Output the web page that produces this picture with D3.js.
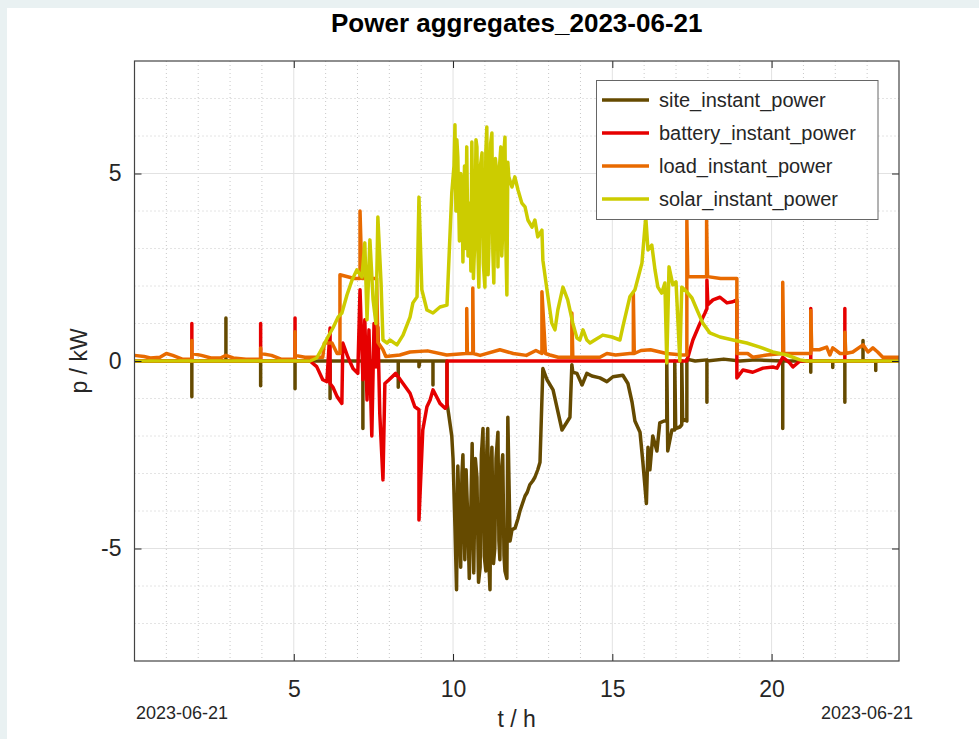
<!DOCTYPE html>
<html>
<head>
<meta charset="utf-8">
<script src="https://cdn.jsdelivr.net/npm/d3@7"></script>
<style>
body { margin: 0; background: #e9f1f2; }
svg { display: block; font-family: "Liberation Sans", Arial, sans-serif; }
</style>
</head>
<body>
<svg id="chart" width="979" height="739"></svg>
<script>
// labels
const chartTitle = "Power aggregates_2023-06-21";
const dateLabel = "2023-06-21";
const seriesNames = ["site_instant_power", "battery_instant_power", "load_instant_power", "solar_instant_power"];
const xTicks = [5, 10, 15, 20];
const yTicks = [-5, 0, 5];

// [hour, kW]
const sitePower = [
  [0,0],[1.80,0],[1.80,-0.95],[1.80,0],[2.87,0],[2.87,1.15],[2.87,0],[3.96,0],[3.96,-0.66],[3.96,0],
  [5.04,0],[5.04,-0.74],[5.04,0],[6.14,0],[6.14,-1.0],[6.14,0],[7.17,0],[7.17,-1.8],[7.17,0],
  [7.45,0],[7.45,-1.05],[7.45,0],[8.28,0],[8.28,-0.7],[8.28,0],[8.93,0],[8.93,-0.15],[8.96,0],
  [9.37,0],[9.37,-0.64],[9.37,0],[9.81,0],[9.81,-1.12],[9.86,-1.4],[9.96,-2.0],[10.0,-2.6],
  [10.06,-4.4],[10.11,-6.1],[10.15,-2.8],[10.21,-4.5],[10.24,-5.5],[10.28,-3.0],[10.31,-2.5],
  [10.37,-5.3],[10.41,-2.9],[10.47,-4.4],[10.51,-5.8],[10.56,-3.9],[10.60,-2.2],[10.65,-5.65],
  [10.70,-2.6],[10.75,-3.1],[10.80,-5.9],[10.85,-5.5],[10.89,-2.5],[10.94,-1.8],[10.98,-5.2],
  [11.03,-5.6],[11.06,-2.4],[11.09,-1.8],[11.13,-5.5],[11.16,-6.1],[11.19,-3.0],[11.22,-2.3],
  [11.27,-5.4],[11.31,-5.0],[11.35,-2.6],[11.41,-1.9],[11.44,-4.8],[11.47,-5.3],[11.51,-3.0],
  [11.56,-2.5],[11.60,-5.2],[11.63,-5.6],[11.69,-5.8],[11.72,-1.5],[11.79,-4.8],[11.85,-4.5],
  [11.95,-4.45],[12.04,-4.2],[12.10,-4.0],[12.18,-3.8],[12.26,-3.6],[12.33,-3.5],[12.41,-3.3],
  [12.50,-3.2],[12.57,-3.1],[12.66,-2.9],[12.73,-2.7],[12.82,-0.2],[12.95,-0.5],
  [13.14,-0.77],[13.42,-1.84],[13.67,-1.5],[13.73,-0.1],[13.76,-0.3],[13.89,-0.33],[14.05,-0.64],
  [14.20,-0.33],[14.36,-0.4],[14.61,-0.45],[14.83,-0.55],[15.02,-0.42],[15.33,-0.38],[15.49,-0.6],
  [15.62,-1.1],[15.71,-1.6],[15.87,-1.9],[15.96,-2.7],[16.02,-3.3],[16.07,-3.8],[16.12,-2.3],
  [16.18,-2.9],[16.27,-2.0],[16.40,-2.4],[16.49,-1.65],[16.62,-1.6],[16.71,-1.6],[16.71,0],
  [16.74,-2.4],[16.87,-1.84],[16.96,-1.84],[16.96,0],[16.99,-1.8],[17.12,-1.76],[17.18,-1.7],
  [17.18,0],[17.21,-1.6],[17.28,-1.57],[17.34,-1.6],[17.34,0.05],[17.6,0],[17.97,0.03],
  [17.97,-1.1],[17.97,0],[18.5,0.05],[19.0,0],[19.5,0.03],[20.35,0],[20.35,-1.8],[20.35,0],
  [21.23,0],[21.23,-0.3],[21.23,0],[21.92,0],[21.92,-0.17],[21.92,0],[22.30,0],[22.30,-1.1],
  [22.30,0],[22.87,0],[22.87,0.55],[22.87,0],[23.27,0],[23.27,-0.25],[23.27,0],[24,0]
];
const batteryPower = [
  [0,0],[1.80,0],[1.80,1.0],[1.80,0],[3.96,0],[3.96,1.0],[3.96,0],[5.04,0],[5.04,1.15],[5.04,0],
  [5.51,0],[5.72,-0.15],[5.91,-0.5],[6.04,-0.55],[6.14,0.88],[6.14,-0.6],[6.23,-0.7],[6.36,-0.95],
  [6.51,-1.13],[6.54,0.48],[6.70,0.1],[6.86,-0.2],[7.01,-0.33],[7.08,1.9],[7.17,-0.5],[7.23,1.1],
  [7.30,-1.04],[7.36,0.83],[7.45,-2.0],[7.52,1.0],[7.58,-0.16],[7.64,0.9],[7.70,-1.4],[7.80,-3.17],
  [7.86,-0.6],[7.99,-0.5],[8.20,-0.33],[8.43,-0.6],[8.65,-0.86],[8.80,-1.22],[8.93,-1.3],
  [8.93,-4.24],[9.05,-1.84],[9.18,-1.22],[9.28,-1.04],[9.37,-0.77],[9.50,-0.98],[9.59,-1.13],
  [9.75,-1.26],[9.81,-1.2],[9.81,0],[17.34,0],[17.44,0.3],[17.53,0.56],[17.75,1.0],[17.91,1.28],
  [17.97,1.4],[17.97,2.16],[18.0,1.5],[18.16,1.63],[18.38,1.7],[18.60,1.55],[18.78,1.58],
  [18.91,1.63],[18.91,-0.45],[19.10,-0.24],[19.41,-0.3],[19.73,-0.19],[20.04,-0.16],[20.17,-0.19],
  [20.35,0.1],[20.57,-0.05],[20.67,-0.16],[20.89,0],[21.23,0],[21.23,1.4],[21.23,0],
  [22.30,0],[22.30,1.4],[22.30,0],[24,0]
];
const loadPower = [
  [0,0.15],[0.3,0.12],[0.5,0.08],[0.8,0.1],[1.0,0.2],[1.2,0.15],[1.5,0.05],[1.80,0.05],[1.80,0.55],
  [1.80,0.2],[2.1,0.15],[2.4,0.08],[2.7,0.08],[2.87,0.15],[3.1,0.08],[3.5,0.05],[3.96,0.05],
  [3.96,0.35],[3.96,0.2],[4.3,0.15],[4.6,0.05],[5.04,0.05],[5.04,0.78],[5.04,0.15],[5.35,0.1],
  [5.6,0.1],[5.91,0.1],[5.96,0.48],[6.2,0.48],[6.36,0.2],[6.45,0.2],[6.45,2.3],[6.9,2.2],
  [7.08,2.2],[7.08,4.0],[7.14,2.2],[7.6,2.2],[7.64,0.5],[7.8,0.3],[7.89,0.12],[8.33,0.16],
  [8.65,0.24],[9.2,0.27],[9.8,0.16],[10.4,0.2],[10.43,0.2],[10.43,1.4],[10.45,0.2],[10.62,0.2],
  [10.62,1.95],[10.64,0.2],[10.85,0.15],[11.47,0.3],[11.89,0.2],[12.3,0.15],[12.6,0.28],
  [12.79,0.2],[12.79,1.85],[12.9,0.2],[13.04,0.16],[13.3,0.1],[13.73,0.1],[13.73,1.28],
  [13.76,0.1],[14.2,0.1],[14.61,0.1],[14.83,0.2],[15.1,0.16],[15.55,0.2],[15.66,0.2],[15.66,1.8],
  [15.69,0.2],[15.9,0.28],[16.2,0.3],[16.7,0.2],[17.2,0.16],[17.34,0.16],[17.34,3.75],[17.37,2.25],
  [17.96,2.25],[17.96,3.75],[17.99,2.25],[18.4,2.2],[18.91,2.2],[18.91,0.2],[19.25,0.2],[19.41,0.1],
  [19.85,0.16],[20.35,0.2],[20.35,2.1],[20.38,0.2],[20.9,0.2],[21.23,0.2],[21.23,1.35],[21.26,0.3],
  [21.5,0.3],[21.73,0.37],[21.83,0.16],[21.92,0.35],[22.15,0.2],[22.30,0.2],[22.30,0.77],
  [22.33,0.2],[22.55,0.24],[22.87,0.43],[23.03,0.24],[23.18,0.35],[23.33,0.24],[23.49,0.1],[24,0.1]
];
const solarPower = [
  [0,0],[5.35,0],[5.51,0],[5.72,0.08],[5.91,0.37],[6.07,0.64],[6.23,0.88],[6.39,1.17],[6.51,1.28],
  [6.67,1.76],[6.83,2.16],[6.98,2.43],[7.14,2.24],[7.23,3.15],[7.30,1.1],[7.39,3.23],[7.49,1.63],
  [7.58,1.0],[7.64,3.84],[7.74,2.08],[7.80,0.56],[7.93,0.48],[8.02,0.56],[8.24,0.43],[8.43,0.69],
  [8.65,1.17],[8.74,1.55],[8.87,1.71],[8.93,4.37],[9.02,1.9],[9.18,1.36],[9.37,1.28],[9.59,1.44],
  [9.81,1.49],[9.96,4.48],[10.03,5.2],[10.06,6.3],[10.09,4.0],[10.12,5.9],[10.15,5.44],[10.2,3.2],
  [10.24,5.0],[10.28,4.64],[10.31,2.64],[10.36,5.2],[10.40,3.0],[10.43,5.71],[10.47,2.8],
  [10.53,4.21],[10.56,2.4],[10.59,5.84],[10.64,2.2],[10.69,3.41],[10.72,5.9],[10.75,5.71],
  [10.78,3.0],[10.81,1.97],[10.86,5.2],[10.91,5.55],[10.95,2.6],[11.0,1.97],[11.03,5.6],
  [11.06,6.24],[11.10,2.3],[11.13,3.15],[11.18,5.8],[11.22,6.08],[11.25,2.9],[11.28,2.08],
  [11.33,5.4],[11.38,4.91],[11.41,2.51],[11.46,5.2],[11.50,5.71],[11.53,2.8],[11.56,3.49],
  [11.60,5.6],[11.63,5.97],[11.66,3.0],[11.69,1.76],[11.72,5.3],[11.75,4.91],[11.85,4.64],
  [11.94,4.91],[12.04,4.56],[12.16,4.21],[12.26,4.11],[12.35,3.76],[12.48,3.57],[12.57,3.76],
  [12.66,3.31],[12.79,3.49],[12.82,2.69],[12.95,1.89],[13.1,1.01],[13.2,0.83],[13.29,1.36],
  [13.45,1.97],[13.6,1.63],[13.76,1.01],[13.89,0.61],[13.98,0.56],[14.08,0.83],[14.2,0.56],
  [14.30,0.48],[14.45,0.56],[14.7,0.69],[14.99,0.64],[15.24,0.56],[15.33,0.91],[15.55,1.71],
  [15.71,1.9],[15.93,2.61],[16.05,3.84],[16.12,2.96],[16.24,3.09],[16.34,2.43],[16.43,1.97],
  [16.55,1.81],[16.65,2.08],[16.71,-0.05],[16.78,2.51],[16.90,2.03],[17.0,2.11],[17.12,0],
  [17.18,1.97],[17.34,1.84],[17.5,1.68],[17.66,1.36],[17.84,1.01],[18.06,0.75],[18.38,0.64],
  [18.79,0.56],[19.22,0.48],[19.63,0.37],[20.04,0.24],[20.48,0.16],[20.89,0.03],[21.1,0],[24,0]
];

const seriesData = [sitePower, batteryPower, loadPower, solarPower];
const seriesColors = ["#654a00", "#e60000", "#e86a00", "#cccc00"];

const margin = {left: 134.5, right: 80, top: 61, bottom: 78};
const width = 979, height = 739;

const svg = d3.select("#chart");

// white panel
svg.append("rect")
  .attr("x", 7).attr("y", 8)
  .attr("width", width - 7).attr("height", height - 8)
  .attr("fill", "#fff");

const x = d3.scaleLinear().domain([0, 24]).range([margin.left, width - margin.right]);
const y = d3.scaleLinear().domain([-8, 8]).range([height - margin.bottom, margin.top]);

const x0 = x.range()[0], x1 = x.range()[1];
const y0 = y.range()[1], y1 = y.range()[0];

// minor grid (dotted)
const grid = svg.append("g");
grid.selectAll(".mx")
  .data(d3.range(1, 24).filter(d => d % 5 != 0))
  .enter().append("line")
  .attr("x1", d => x(d)).attr("x2", d => x(d))
  .attr("y1", y0).attr("y2", y1)
  .style("stroke", "#c8c8c8").style("stroke-dasharray", "1,3");
grid.selectAll(".my")
  .data(d3.range(-7, 8).filter(d => d % 5 != 0))
  .enter().append("line")
  .attr("y1", d => y(d)).attr("y2", d => y(d))
  .attr("x1", x0).attr("x2", x1)
  .style("stroke", "#c8c8c8").style("stroke-dasharray", "1,3");
// major grid
grid.selectAll(".gx")
  .data(xTicks)
  .enter().append("line")
  .attr("x1", d => x(d)).attr("x2", d => x(d))
  .attr("y1", y0).attr("y2", y1)
  .style("stroke", "#e2e2e2");
grid.selectAll(".gy")
  .data(yTicks)
  .enter().append("line")
  .attr("y1", d => y(d)).attr("y2", d => y(d))
  .attr("x1", x0).attr("x2", x1)
  .style("stroke", "#e2e2e2");

// series
svg.append("clipPath").attr("id", "clip")
  .append("rect").attr("x", x0).attr("y", y0).attr("width", x1 - x0).attr("height", y1 - y0);

const line = d3.line()
  .x(d => x(d[0]))
  .y(d => y(d[1]));

svg.append("g").attr("clip-path", "url(#clip)")
  .selectAll("path")
  .data(seriesData)
  .enter().append("path")
  .attr("d", line)
  .style("fill", "none")
  .style("stroke", (d, i) => seriesColors[i])
  .style("stroke-width", "3.5px")
  .style("stroke-linejoin", "round");

// axes, ticks inward
function styleAxis(g) {
  g.select(".domain").remove();
  g.selectAll("line").style("stroke", "#222").style("stroke-width", "1px");
  g.selectAll("text").style("font-size", "23px").style("fill", "#262626")
    .style("font-family", "'Liberation Sans', Arial, sans-serif");
}
const plain = d => String(d); // keeps the ascii hyphen of the reference
svg.append("g").attr("transform", `translate(0,${y1})`)
  .call(d3.axisBottom(x).tickValues(xTicks).tickFormat(plain).tickSizeInner(-7).tickSizeOuter(0).tickPadding(20))
  .call(styleAxis);
svg.append("g").attr("transform", `translate(0,${y0})`)
  .call(d3.axisTop(x).tickValues(xTicks).tickSizeInner(-7).tickSizeOuter(0).tickFormat(""))
  .call(styleAxis);
svg.append("g").attr("transform", `translate(${x0},0)`)
  .call(d3.axisLeft(y).tickValues(yTicks).tickFormat(plain).tickSizeInner(-7).tickSizeOuter(0).tickPadding(13))
  .call(styleAxis);
svg.append("g").attr("transform", `translate(${x1},0)`)
  .call(d3.axisRight(y).tickValues(yTicks).tickSizeInner(-7).tickSizeOuter(0).tickFormat(""))
  .call(styleAxis);

// frame
svg.append("rect")
  .attr("x", x0).attr("y", y0).attr("width", x1 - x0).attr("height", y1 - y0)
  .style("fill", "none").style("stroke", "#444").style("stroke-width", "1.2px");

// title and labels
svg.append("text")
  .attr("x", (x0 + x1) / 2).attr("y", 32)
  .attr("text-anchor", "middle")
  .style("font-size", "26px").style("font-weight", "bold").style("fill", "#000")
  .text(chartTitle);

svg.append("text")
  .attr("x", (x0 + x1) / 2).attr("y", 727)
  .attr("text-anchor", "middle")
  .style("font-size", "23px").style("fill", "#262626")
  .text("t / h");

svg.append("text")
  .attr("transform", `translate(87,${(y0 + y1) / 2}) rotate(-90)`)
  .attr("text-anchor", "middle")
  .style("font-size", "23px").style("fill", "#262626")
  .text("p / kW");

svg.append("text")
  .attr("x", 136).attr("y", 719)
  .style("font-size", "18px").style("fill", "#262626")
  .text(dateLabel);
svg.append("text")
  .attr("x", 913).attr("y", 719)
  .attr("text-anchor", "end")
  .style("font-size", "18px").style("fill", "#262626")
  .text(dateLabel);

// legend
const legend = svg.append("g");
legend.append("rect")
  .attr("x", 596.5).attr("y", 80.5).attr("width", 281.5).attr("height", 139)
  .style("fill", "#fff").style("stroke", "#666").style("stroke-width", "1px");
const rows = legend.selectAll(".row")
  .data(seriesNames)
  .enter().append("g")
  .attr("transform", (d, i) => `translate(0,${100 + i * 33})`);
rows.append("line")
  .attr("x1", 602).attr("x2", 649).attr("y1", 0).attr("y2", 0)
  .style("stroke", (d, i) => seriesColors[i]).style("stroke-width", "3.5px");
rows.append("text")
  .attr("x", 659).attr("dy", "0.35em")
  .style("font-size", "20px").style("fill", "#262626")
  .text(d => d);
</script>
</body>
</html>
